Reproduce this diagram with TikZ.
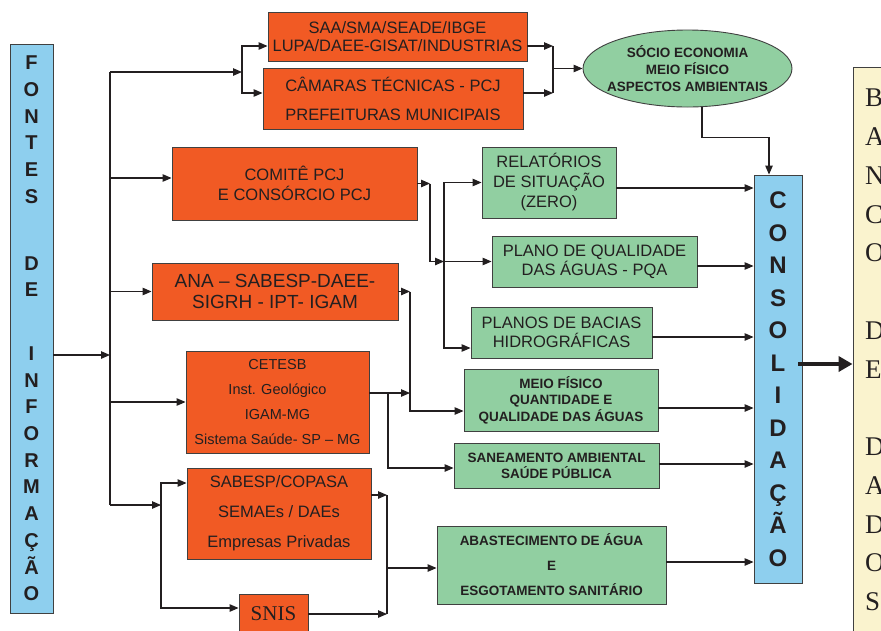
\documentclass[tikz,border=0pt]{standalone}
\usepackage{fontspec}
\setmainfont{Liberation Serif}
\setsansfont{Liberation Sans}
\usetikzlibrary{arrows.meta,shapes.geometric,calc}
\definecolor{laranja}{RGB}{241,90,36}
\definecolor{verde}{RGB}{145,207,161}
\definecolor{azulc}{RGB}{142,207,238}
\definecolor{bege}{RGB}{250,243,206}
\definecolor{borda}{RGB}{64,64,64}
\definecolor{tinta}{RGB}{35,31,32}
\newcommand{\fsz}[2]{\fontsize{#1}{#2}\selectfont}

\begin{document}
\begin{tikzpicture}[x=1pt,y=-1pt,
      cx/.style={draw=borda,line width=0.9pt,text=tinta,align=center,inner sep=0pt},
      ora/.style={cx,fill=laranja,font=\sffamily\fsz{16.5}{18}},
      vd/.style={cx,fill=verde,font=\sffamily\fsz{16.5}{19}},
      vdb/.style={cx,fill=verde,font=\sffamily\bfseries\fsz{13.5}{16.5}},
      lat/.style={cx,fill=azulc,font=\sffamily\bfseries\fsz{20}{26.7}},
      con/.style={draw=tinta,line width=1.1pt},
      arr/.style={con,-{Triangle[length=9pt,width=7.5pt]}}]
      \useasboundingbox (0,0) rectangle (881,630);
      % Side columns
      \node[lat,minimum width=43,minimum height=569] (fontes) at (31.5,328.5)
        {F\\O\\N\\T\\E\\S\\[40pt]D\\E\\[37pt]I\\N\\F\\O\\R\\M\\A\\Ç\\Ã\\O};
      \node[lat,font=\sffamily\bfseries\fsz{24}{32.5},minimum width=48,minimum height=408] (consol) at (778,379)
        {C\\O\\N\\S\\O\\L\\I\\D\\A\\Ç\\Ã\\O};
      \node[cx,fill=bege,font=\rmfamily\fsz{27}{38.75},text width=40pt,inner xsep=12pt,align=left,minimum height=566] (banco) at (885,350)
        {B\\A\\N\\C\\O\\[38.75pt]D\\E\\[38.75pt]D\\A\\D\\O\\S};
      % Sources
      \node[ora,minimum width=259,minimum height=49] (saa) at (397.5,36.5) {SAA/SMA/SEADE/IBGE\\LUPA/DAEE-GISAT/INDUSTRIAS};
      \node[ora,font=\sffamily\fsz{16.5}{29},minimum width=260,minimum height=61] (camaras) at (393,98.5) {CÂMARAS TÉCNICAS - PCJ\\PREFEITURAS MUNICIPAIS};
      \node[ora,font=\sffamily\fsz{16.5}{20},minimum width=245,minimum height=73] (comite) at (294.5,183.5) {COMITÊ PCJ\\E CONSÓRCIO PCJ};
      \node[ora,font=\sffamily\fsz{19}{21},minimum width=246,minimum height=57] (ana) at (275,291.5) {ANA – SABESP-DAEE-\\SIGRH - IPT- IGAM};
      \node[ora,font=\sffamily\fsz{14.5}{25},minimum width=183,minimum height=102] (cetesb) at (277.5,402) {CETESB\\Inst. Geológico\\IGAM-MG\\Sistema Saúde- SP – MG};
      \node[ora,font=\sffamily\fsz{16.5}{30},minimum width=184,minimum height=91] (sabesp) at (279,513.5) {SABESP/COPASA\\SEMAEs / DAEs\\Empresas Privadas};
      \node[ora,font=\rmfamily\fsz{21}{24},minimum width=69,minimum height=40] (snis) at (273.5,614) {SNIS};
      % Results
      \node[cx,ellipse,fill=verde,font=\sffamily\bfseries\fsz{13.5}{17},inner xsep=-10pt,minimum width=209,minimum height=77] (socio) at (687.5,68.5) {SÓCIO ECONOMIA\\MEIO FÍSICO\\ASPECTOS AMBIENTAIS};
      \node[vd,font=\sffamily\fsz{16.5}{20},minimum width=134,minimum height=71] (relat) at (549,182.5) {RELATÓRIOS\\DE SITUAÇÃO\\(ZERO)};
      \node[vd,minimum width=205,minimum height=51] (pqa) at (594.5,261.5) {PLANO DE QUALIDADE\\DAS ÁGUAS - PQA};
      \node[vd,minimum width=181,minimum height=51] (bacias) at (561.5,332.5) {PLANOS DE BACIAS\\HIDROGRÁFICAS};
      \node[vdb,minimum width=194,minimum height=62] (meio) at (561,400) {MEIO FÍSICO\\QUANTIDADE E\\QUALIDADE DAS ÁGUAS};
      \node[vdb,font=\sffamily\bfseries\fsz{13.5}{16},minimum width=205,minimum height=45] (saneam) at (556.5,465.5) {SANEAMENTO AMBIENTAL\\SAÚDE PÚBLICA};
      \node[vdb,font=\sffamily\bfseries\fsz{13.5}{25},minimum width=229,minimum height=78] (abast) at (551.5,565) {ABASTECIMENTO DE ÁGUA\\E\\ESGOTAMENTO SANITÁRIO};
      % Trunk and branches on the left
      \coordinate (tA) at (110,72);
      \coordinate (tB) at (110,505);
      \coordinate (tIn) at (110,355);
      \draw[con] (tA) -- (tB);
      \draw[arr] (fontes.east |- tIn) -- (tIn);
      \coordinate (j1) at (242,72);
      \draw[arr] (tA) -- (j1);
      \draw[arr] (j1) |- ([yshift=-9.5pt]saa.west);
      \draw[arr] (j1) |- ([yshift=5.5pt]camaras.west);
      \coordinate (iCom) at ([yshift=5.5pt]comite.west);
      \draw[arr] (iCom -| tA) -- (iCom);
      \draw[arr] (ana.west -| tA) -- (ana.west);
      \draw[arr] (cetesb.west -| tA) -- (cetesb.west);
      \coordinate (j2) at (161,505);
      \draw[arr] (tB) -- (j2);
      \draw[arr] (j2) |- ([yshift=30.5pt]sabesp.west);
      \draw[arr] (j2) |- ([yshift=6pt]snis.west);
      % Top: to the ellipse
      \coordinate (j3) at (553,68.5);
      \coordinate (oSaa) at ([yshift=-9.5pt]saa.east);
      \coordinate (oCam) at ([yshift=5.5pt]camaras.east);
      \draw[arr] (oSaa) -- (oSaa -| j3);
      \draw[arr] (oCam) -- (oCam -| j3);
      \draw[con] (oSaa -| j3) -- (oCam -| j3);
      \draw[arr] (j3) -- (socio.west);
      \draw[arr] ([xshift=14.5pt]socio.south) -- ++(0,30) -| ([xshift=-9pt]consol.north);
      % Middle
      \coordinate (j4) at (430,183.5);
      \coordinate (j5) at (444,261.5);
      \draw[arr] (comite.east) -- (j4);
      \draw[arr] (j4) |- (j5);
      \draw[arr] (j5) -- (pqa.west);
      \draw[arr] (j5) |- (relat.west);
      \draw[arr] (j5) |- ([yshift=-15.5pt]bacias.west);
      \coordinate (j6) at (410,291.5);
      \draw[arr] (ana.east) -- (j6);
      \draw[arr] (j6) |- ([yshift=-11pt]meio.west);
      \coordinate (oCet) at ([yshift=9pt]cetesb.east);
      \draw[arr] (oCet) -- (oCet -| j6);
      \coordinate (j7) at (388,393);
      \draw[arr] (j7) |- ([yshift=-2.5pt]saneam.west);
      % Bottom
      \coordinate (j8) at (387,568);
      \coordinate (oSab) at ([yshift=18.5pt]sabesp.east);
      \draw[arr] (oSab) -- (oSab -| j8);
      \draw[arr] (snis.east) -- (snis.east -| j8);
      \draw[con] (oSab -| j8) -- (snis.east -| j8);
      \draw[arr] (j8) -- (j8 -| abast.west);
      % Into the consolidation column
      \foreach \n/\s in {relat/-5.5,pqa/-4.5,bacias/-4.5,meio/-8,saneam/1.5,abast/3}{
        \coordinate (o) at ([yshift=\s pt]\n.east);
        \draw[arr] (o) -- (o -| consol.west);
      }
      \coordinate (bg) at ([xshift=-4pt,yshift=15pt]consol.east);
      \draw[con,line width=3.5pt,-{Triangle[length=14pt,width=15pt]}] (bg) -- (bg -| banco.west);
    \end{tikzpicture}
\end{document}
